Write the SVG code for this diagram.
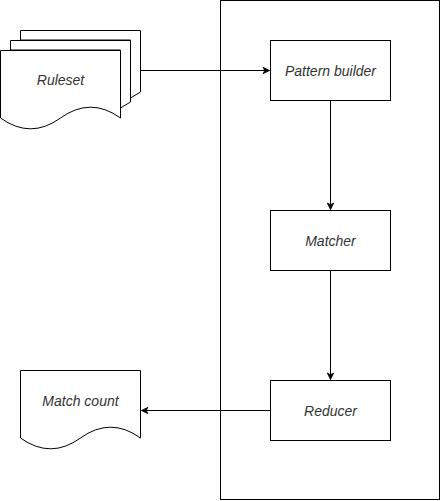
<svg xmlns="http://www.w3.org/2000/svg" width="441" height="501" viewBox="0 0 441 501">
<defs>
<style>
.s{fill:#fff;stroke:#000;stroke-width:1}
.t{font-family:"Liberation Sans",Arial,sans-serif;font-size:14px;font-style:italic;fill:#333;text-anchor:middle}
.c{fill:none;stroke:#000;stroke-width:1}
</style>
<marker id="a" viewBox="0 0 10 10" refX="9" refY="5" markerWidth="8" markerHeight="8" markerUnits="userSpaceOnUse" orient="auto">
<path d="M1,1 L9,5 L1,9 L3,5 Z" fill="#000" stroke="#000" stroke-width="1"/>
</marker>
</defs>
<rect width="441" height="501" fill="#fff"/>
<g id="container"><rect class="s" x="220.5" y="0.5" width="219" height="499"/></g>
<g id="ruleset">
<path class="s" d="M20.5,40 L20.5,30.5 L140.5,30.5 L140.5,92 L130.5,98 L130.5,40 Z"/>
<path class="s" d="M10.5,50 L10.5,40.5 L130.5,40.5 L130.5,102 L120.5,108 L120.5,50 Z"/>
<path class="s" d="M0.5,50.5 L120.5,50.5 L120.5,118 Q90.5,96.4 60.5,118 Q30.5,139.6 0.5,118 Z"/>
<text class="t" x="60.5" y="85">Ruleset</text>
</g>
<g id="pattern-builder"><rect class="s" x="270.5" y="40.5" width="120" height="60"/><text class="t" x="330.5" y="75.5">Pattern builder</text></g>
<g id="matcher"><rect class="s" x="270.5" y="210.5" width="120" height="60"/><text class="t" x="330.5" y="245.5">Matcher</text></g>
<g id="reducer"><rect class="s" x="270.5" y="380.5" width="120" height="60"/><text class="t" x="330.5" y="415.5">Reducer</text></g>
<g id="match-count">
<path class="s" d="M20.5,370.5 L140.5,370.5 L140.5,438 Q110.5,416.4 80.5,438 Q50.5,459.6 20.5,438 Z"/>
<text class="t" x="80.5" y="406">Match count</text>
</g>
<g id="connectors">
<path class="c" d="M140.5,70.5 L269.5,70.5" marker-end="url(#a)"/>
<path class="c" d="M330.5,100.5 L330.5,209.5" marker-end="url(#a)"/>
<path class="c" d="M330.5,270.5 L330.5,379.5" marker-end="url(#a)"/>
<path class="c" d="M270.5,410.5 L141.5,410.5" marker-end="url(#a)"/>
</g>
</svg>
